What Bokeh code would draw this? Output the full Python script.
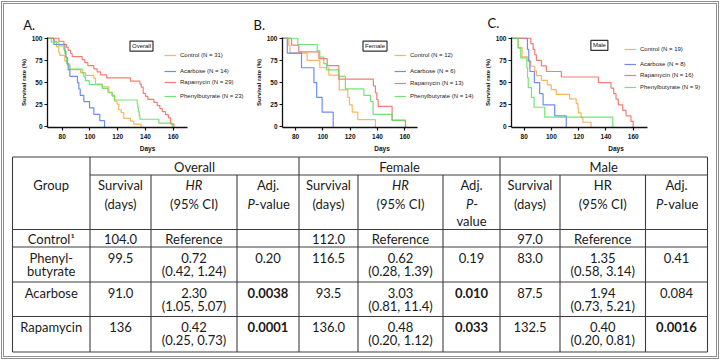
import numpy as np
from bokeh.plotting import figure
from bokeh.layouts import column, row
from bokeh.models import Range1d, FixedTicker, Legend, LegendItem, Label, ColumnDataSource
from bokeh.core.properties import value
from bokeh.embed import file_html
from bokeh.resources import INLINE

# ------------------------------------------------------------------ data
groups = ["Control", "Acarbose", "Rapamycin", "Phenylbutyrate"]

# Panel A: overall
A_n = [31, 14, 29, 23]
A_control_t = [74.0, 75.9, 77.5, 78.3, 81.9, 83.5, 85.5, 93.2, 96.8, 102.8, 104.0, 108.8, 113.6, 116.0,
               117.7, 119.6, 120.8, 122.5, 124.4, 129.2, 131.6, 136.9]
A_control_s = [96.8, 90.3, 83.9, 80.6, 74.2, 71.0, 64.5, 61.3, 58.1, 54.8, 48.4, 45.2, 38.7, 35.5,
               29.0, 25.8, 19.4, 16.1, 9.7, 6.5, 3.2, 0.0]
A_acarbose_t = [74.0, 81.9, 82.6, 83.6, 84.3, 85.5, 91.0, 92.0, 93.0, 95.6, 99.7, 102.8, 107.1, 110.5]
A_acarbose_s = [92.9, 85.7, 78.6, 71.4, 64.3, 57.1, 50.0, 42.9, 35.7, 28.6, 21.4, 14.3, 7.1, 0.0]
A_rapamycin_t = [77.6, 81.2, 83.1, 84.3, 86.0, 87.2, 94.4, 96.3, 98.5, 102.8, 105.2, 107.6, 112.0, 129.2,
                 136.0, 137.0, 138.4, 140.1, 141.7, 146.1, 148.5, 150.4, 152.1, 154.5, 156.5, 158.1, 160.5]
A_rapamycin_s = [96.6, 93.1, 89.7, 86.2, 82.8, 79.3, 75.9, 72.4, 69.0, 65.5, 62.1, 58.6, 55.2, 51.7,
                 48.3, 44.8, 37.9, 34.5, 31.0, 27.6, 24.1, 20.7, 17.2, 13.8, 10.3, 3.4, 0.0]
A_phenyl_t = [72.1, 77.6, 81.2, 81.9, 82.4, 83.1, 83.6, 85.5, 94.4, 95.6, 96.8, 99.5, 108.8, 112.9,
              116.0, 117.7, 134.1, 134.5, 135.0, 135.5, 136.0, 149.7, 159.3]
A_phenyl_s = [95.7, 91.3, 87.0, 82.6, 78.3, 73.9, 69.6, 65.2, 60.9, 56.5, 52.2, 47.8, 43.5, 39.1,
              34.8, 30.4, 26.1, 21.7, 17.4, 13.0, 8.7, 4.3, 0.0]

# Panel B: female
B_n = [12, 6, 13, 14]
B_control_t = [75.1, 75.9, 88.5, 97.8, 104.4, 112.0, 118.3, 119.5, 121.5, 125.6, 138.5]
B_control_s = [91.7, 83.3, 75.0, 66.7, 58.3, 41.7, 33.3, 25.0, 16.7, 8.3, 0.0]
B_acarbose_t = [74.0, 84.4, 93.5, 95.5, 99.5, 107.6]
B_acarbose_s = [83.3, 66.7, 50.0, 33.3, 16.7, 0.0]
B_rapamycin_t = [77.1, 82.4, 97.1, 103.2, 111.7, 137.0, 138.5, 139.5, 140.5, 150.7, 160.5]
B_rapamycin_s = [92.3, 84.6, 76.9, 69.2, 53.8, 46.2, 38.5, 30.8, 23.1, 7.7, 0.0]
B_phenyl_t = [81.7, 95.9, 97.8, 100.7, 102.7, 111.7, 116.5, 130.0, 134.9, 136.8, 150.7, 160.5]
B_phenyl_s = [92.9, 85.7, 78.6, 71.4, 64.3, 57.1, 42.9, 35.7, 28.6, 14.3, 7.1, 0.0]

# Panel C: male
C_n = [19, 8, 16, 9]
C_control_t = [75.6, 78.5, 82.9, 84.9, 87.8, 89.0, 92.7, 97.0, 99.9, 103.6, 113.3, 118.2, 119.4, 119.9,
               121.8, 123.1, 129.1]
C_control_s = [89.5, 78.9, 73.7, 68.4, 63.2, 57.9, 52.6, 47.4, 42.1, 36.8, 31.6, 26.3, 21.1, 15.8,
               10.5, 5.3, 0.0]
C_acarbose_t = [82.4, 83.4, 84.2, 87.5, 91.4, 93.9, 102.4, 110.9]
C_acarbose_s = [87.5, 75.0, 62.5, 50.0, 37.5, 25.0, 12.5, 0.0]
C_rapamycin_t = [84.9, 86.6, 87.8, 89.0, 92.7, 96.3, 107.3, 134.5, 143.7, 145.7, 147.4, 149.1, 152.3,
                 154.7, 158.3, 160.0]
C_rapamycin_s = [93.8, 87.5, 81.3, 75.0, 68.8, 62.5, 56.3, 50.0, 43.8, 37.5, 31.3, 25.0, 18.8, 12.5,
                 6.3, 0.0]
C_phenyl_t = [75.6, 77.5, 82.0, 82.5, 83.0, 85.4, 87.3, 95.1, 145.0]
C_phenyl_s = [88.9, 77.8, 66.7, 55.6, 44.4, 33.3, 22.2, 11.1, 0.0]

x_ticks = [80, 100, 120, 140, 160]
y_ticks = [0, 25, 50, 75, 100]

# Table
table_groups = ["Control\u00b9", "Phenyl-\nbutyrate", "Acarbose", "Rapamycin"]
overall_survival = ["104.0", "99.5", "91.0", "136"]
overall_hr = ["Reference", "0.72", "2.30", "0.42"]
overall_ci = ["", "(0.42, 1.24)", "(1.05, 5.07)", "(0.25, 0.73)"]
overall_p = ["", "0.20", "0.0038", "0.0001"]
female_survival = ["112.0", "116.5", "93.5", "136.0"]
female_hr = ["Reference", "0.62", "3.03", "0.48"]
female_ci = ["", "(0.28, 1.39)", "(0.81, 11.4)", "(0.20, 1.12)"]
female_p = ["", "0.19", "0.010", "0.033"]
male_survival = ["97.0", "83.0", "87.5", "132.5"]
male_hr = ["Reference", "1.35", "1.94", "0.40"]
male_ci = ["", "(0.58, 3.14)", "(0.73, 5.21)", "(0.20, 0.81)"]
male_p = ["", "0.41", "0.084", "0.0016"]

# ------------------------------------------------------------------ style
COLORS = ["#F8A845", "#5478F7", "#F5665C", "#5CE05C"]
AX_FONT = "Liberation Sans"
TAB_FONT = "Lato"
H_TOP = 154
LEG_DY = 3   # legend vertical placement correction (px)


def make_panel(letter, subset, ns, curves, fig_left, width, fl, ft, fb, p80, p160, axis_right,
               leg_x, leg_ys, box_c, letter_x, letter_standoff):
    fr = fig_left + width                  # frame reaches the right edge of the figure
    k = (p160 - p80) / 80.0                # pixels per day
    x0 = 80 + (fl - p80) / k
    x1 = 80 + (fr - p80) / k
    x_axis_end = 80 + (axis_right - p80) / k
    y0, y1 = -0.6, 100.8
    p = figure(width=width, height=H_TOP, x_range=Range1d(x0, x1), y_range=Range1d(y0, y1),
               min_border_left=fl - fig_left, min_border_right=0,
               min_border_top=ft, min_border_bottom=H_TOP - fb,
               output_backend="svg", toolbar_location=None)
    p.outline_line_color = None
    p.grid.visible = False
    p.background_fill_color = None
    p.border_fill_color = None

    def to_data(cx, cy):
        x = x0 + (cx - fl) / k
        y = y0 + (fb - cy) * (y1 - y0) / (fb - ft)
        return x, y

    p.title.text = letter
    p.title.align = "left"
    p.title.offset = letter_x - fl
    p.title.standoff = letter_standoff
    p.title.text_font = TAB_FONT
    p.title.text_font_size = "13px"
    p.title.text_font_style = "normal"
    p.title.text_color = "#111111"

    for ax in (p.xaxis, p.yaxis):
        ax.axis_line_width = 1.3
        ax.axis_line_color = "#111111"
        ax.major_tick_line_width = 1.2
        ax.major_tick_line_color = "#111111"
        ax.major_tick_out = 3
        ax.major_tick_in = 0
        ax.minor_tick_out = 0
        ax.minor_tick_in = 0
        ax.major_label_text_font = AX_FONT
        ax.major_label_text_font_style = "bold"
        ax.major_label_text_font_size = "6.5px"
        ax.major_label_text_color = "#111111"
        ax.axis_label_text_font = AX_FONT
        ax.axis_label_text_font_style = "bold"
        ax.axis_label_text_color = "#111111"
    p.xaxis.ticker = FixedTicker(ticks=x_ticks)
    p.yaxis.ticker = FixedTicker(ticks=y_ticks)
    p.xaxis.bounds = (x0, x_axis_end)
    p.xaxis.axis_label = "Days"
    p.yaxis.axis_label = "Survival rate (%)"
    p.xaxis.axis_label_text_font_size = "6.5px"
    p.yaxis.axis_label_text_font_size = "6px"
    p.xaxis.major_label_standoff = 3
    p.yaxis.major_label_standoff = 2
    p.xaxis.axis_label_standoff = 3
    p.yaxis.axis_label_standoff = 2

    for i, (t, s) in enumerate(curves):
        src = ColumnDataSource(dict(x=[0.0] + list(t), y=[100.0] + list(s)))
        lr = p.step("x", "y", source=src, mode="after", line_color=COLORS[i], line_width=1.2,
                    line_alpha=0.85)
        tr = p.scatter(x=[], y=[], marker="dash", angle=np.pi / 2, size=7,
                       line_color=COLORS[i], line_width=1)
        leg = Legend(items=[LegendItem(label=f"{groups[i]} (N = {ns[i]})", renderers=[lr, tr])],
                     location=(leg_x - fl, fb - leg_ys[i] - 4 - LEG_DY),
                     glyph_width=12, glyph_height=8, label_height=8, label_width=80,
                     padding=0, spacing=0, margin=0, label_standoff=4,
                     border_line_color=None, background_fill_alpha=0,
                     label_text_font=AX_FONT, label_text_font_size="6px",
                     label_text_color="#222222")
        p.add_layout(leg)

    bx, by = to_data(*box_c)
    p.add_layout(Label(x=bx, y=by, text=subset, text_font=AX_FONT, text_font_size="6px",
                       text_align="center", text_baseline="middle", text_color="#111111",
                       border_line_color="#333333", border_line_width=1.2,
                       background_fill_color="white", padding=2))
    return p


pA = make_panel("A.", "Overall", A_n,
                [(A_control_t, A_control_s), (A_acarbose_t, A_acarbose_s),
                 (A_rapamycin_t, A_rapamycin_s), (A_phenyl_t, A_phenyl_s)],
                0, 247, 47, 34, 128, 61.7, 172.7, 187, 164, [53.3, 69.0, 80.3, 94.0],
                (141, 43), 22.7, 10)
pB = make_panel("B.", "Female", B_n,
                [(B_control_t, B_control_s), (B_acarbose_t, B_acarbose_s),
                 (B_rapamycin_t, B_rapamycin_s), (B_phenyl_t, B_phenyl_s)],
                247, 234, 282, 34, 128, 295.0, 404.3, 417, 394, [53.3, 69.0, 80.5, 94.0],
                (374.5, 43), 253, 10)
pC = make_panel("C.", "Male", C_n,
                [(C_control_t, C_control_s), (C_acarbose_t, C_acarbose_s),
                 (C_rapamycin_t, C_rapamycin_s), (C_phenyl_t, C_phenyl_s)],
                481, 239, 510, 37, 128, 522.7, 632.3, 647, 623, [46.7, 61.7, 72.7, 85.0],
                (598.3, 45), 486, 13)

# ------------------------------------------------------------------ table
T_TOP, T_BOT = 154, 360
pT = figure(width=720, height=T_BOT - T_TOP, x_range=Range1d(0, 720), y_range=Range1d(T_BOT, T_TOP),
            min_border=0, x_axis_location=None, y_axis_location=None,
            output_backend="svg", toolbar_location=None)
pT.outline_line_color = None
pT.grid.visible = False
pT.background_fill_color = None
pT.border_fill_color = None

col_x = [12, 89.5, 150.5, 236.5, 298.5, 357.5, 442.5, 499.5, 559.5, 645, 707]
row_y = [156.5, 174.5, 229, 246.5, 281.5, 316, 351.5]

sx0, sy0, sx1, sy1 = [], [], [], []
def seg(a, b, c, d):
    sx0.append(a); sy0.append(b); sx1.append(c); sy1.append(d)

seg(col_x[0], row_y[0], col_x[-1], row_y[0])
seg(col_x[1], row_y[1], col_x[-1], row_y[1])
for yy in row_y[2:]:
    seg(col_x[0], yy, col_x[-1], yy)
for i, xx in enumerate(col_x):
    if i in (0, 1, 4, 7, 10):
        seg(xx, row_y[0], xx, row_y[-1])
    else:
        seg(xx, row_y[1], xx, row_y[-1])
pT.segment(x0=sx0, y0=sy0, x1=sx1, y1=sy1, line_color="#3c3c3c", line_width=1.1)

tx, ty, tt, tst, tal = [], [], [], [], []
def put(x, y, t, style="normal", align="center"):
    tx.append(x); ty.append(y); tt.append(t); tst.append(style); tal.append(align)

def cx(i):
    return (col_x[i] + col_x[i + 1]) / 2

# header
put((col_x[1] + col_x[4]) / 2, 166, "Overall")
put((col_x[4] + col_x[7]) / 2, 166, "Female")
put((col_x[7] + col_x[10]) / 2, 166, "Male")
put(cx(0), 184.7, "Group")
H1, H2, H3 = 184.7, 203.0, 220.8
for c in (1, 4, 7):
    put(cx(c), H1, "Survival")
    put(cx(c), H2, "(days)")
put(cx(2), H1, "HR", "italic")
put(cx(5), H1, "HR", "italic")
put(cx(8), H1, "HR")
for c in (2, 5, 8):
    put(cx(c), H2, "(95% CI)")
for c in (3, 6, 9):
    put(cx(c), H1, "Adj.")
for c in (3, 9):
    put(cx(c) - 13.2, H2, "P", "italic", "right")
    put(cx(c) - 13.2, H2, "-value", "normal", "left")
put(cx(6) + 1.8, H2, "P", "italic", "right")
put(cx(6) + 1.8, H2, "-", "normal", "left")
put(cx(6), H3, "value")

cols = [(overall_survival, overall_hr, overall_ci, overall_p),
        (female_survival, female_hr, female_ci, female_p),
        (male_survival, male_hr, male_ci, male_p)]
for r in range(4):
    top = row_y[2 + r]
    bot = row_y[3 + r]
    if r == 0:
        l1 = l2 = (top + bot) / 2 + 0.5
    else:
        l1, l2 = top + 10.5, top + 23.8
    parts = table_groups[r].split("\n")
    put(cx(0), l1, parts[0])
    if len(parts) > 1:
        put(cx(0), l2, parts[1])
    for k, (sv, hr, ci, pv) in enumerate(cols):
        base = 1 + 3 * k
        put(cx(base), l1, sv[r])
        put(cx(base + 1), l1, hr[r])
        if ci[r]:
            put(cx(base + 1), l2, ci[r])
        if pv[r]:
            put(cx(base + 2), l1, pv[r], "bold" if float(pv[r]) < 0.05 else "normal")

tsrc = ColumnDataSource(dict(x=tx, y=ty, text=tt, style=tst, align=tal))
pT.text(x="x", y="y", text="text", source=tsrc, text_font=value(TAB_FONT),
        text_font_size=value("13px"), text_font_style="style", text_align="align",
        text_baseline="middle", text_color="#1a1a1a")

layout = column(row(pA, pB, pC), pT,
                styles={"outline": "3px double #8f8f8f", "outline-offset": "-4px",
                        "background-color": "white"})

open("out.html", "w").write(file_html(layout, INLINE))
